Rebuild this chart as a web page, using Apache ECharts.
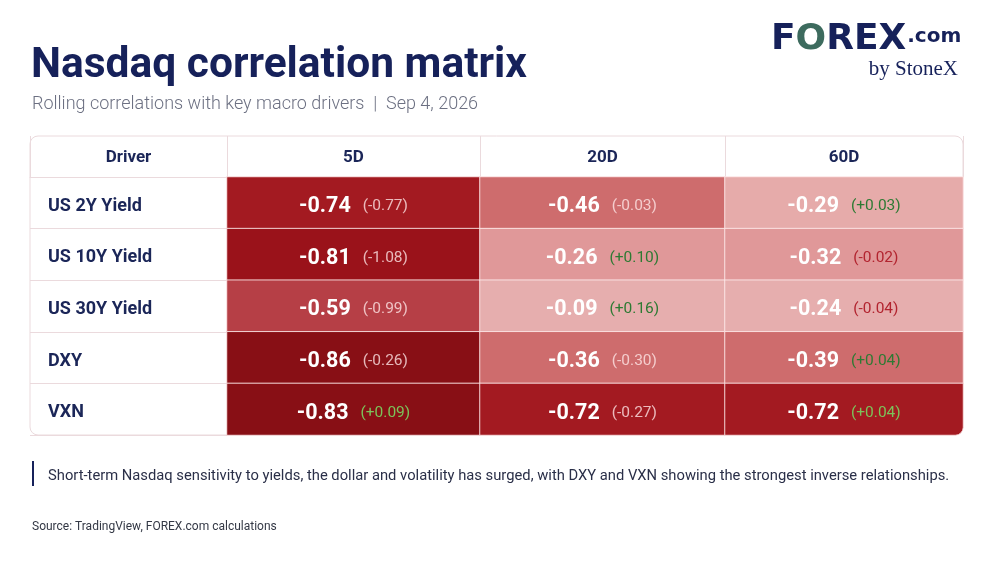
<!DOCTYPE html>
<html><head><meta charset="utf-8">
<script src="https://cdn.jsdelivr.net/npm/echarts@6/dist/echarts.min.js"></script>
<style>html,body{margin:0;padding:0;background:#fff}#c{width:1000px;height:563px}</style>
</head><body><div id="c"></div>
<script>
// ---- data ----
var drivers = ['US 2Y Yield', 'US 10Y Yield', 'US 30Y Yield', 'DXY', 'VXN'];
var periods = ['5D', '20D', '60D'];
var corr5D  = [-0.74, -0.81, -0.59, -0.86, -0.83];
var corr20D = [-0.46, -0.26, -0.09, -0.36, -0.72];
var corr60D = [-0.29, -0.32, -0.24, -0.39, -0.72];
var chg5D  = [-0.77, -1.08, -0.99, -0.26, 0.09];
var chg20D = [-0.03, 0.10, 0.16, -0.30, -0.27];
var chg60D = [0.03, -0.02, -0.04, 0.04, 0.04];

var corrCols = [corr5D, corr20D, corr60D];
var chgCols = [chg5D, chg20D, chg60D];

// ---- layout ----
var NAVY = '#16215a';
var BORDER = '#ebdadd';
var tableTop = 136, headerBottom = 177, tableBottom = 435;
var colEdges = [30, 227, 480, 725, 963];

var chart = echarts.init(document.getElementById('c'), null, {renderer: 'canvas'});

function fmtChg(c) { return '(' + (c > 0 ? '+' : '') + c.toFixed(2) + ')'; }

var grids = [], xAxes = [], yAxes = [], series = [];
for (var g = 0; g < 4; g++) {
  grids.push({left: colEdges[g], width: colEdges[g + 1] - colEdges[g], top: headerBottom, bottom: 563 - tableBottom});
  xAxes.push({
    type: 'category', gridIndex: g, position: 'top',
    data: g === 0 ? ['Driver'] : [periods[g - 1]],
    axisLine: {show: true, lineStyle: {color: BORDER, width: 1}},
    axisTick: {show: true, length: headerBottom - tableTop, lineStyle: {color: BORDER, width: 1}},
    axisLabel: {margin: 19, verticalAlign: 'middle', padding: [4, 0, 0, 0], color: '#1b2658', fontFamily: 'Roboto', fontWeight: 'bold', fontSize: 17},
    splitLine: {show: false}
  });
  yAxes.push({
    type: 'category', gridIndex: g, inverse: true, data: drivers,
    show: g === 0,
    axisLine: {show: false}, axisTick: {show: false},
    axisLabel: {
      inside: true, margin: 18,
      formatter: '{a|{value}}',
      rich: {a: {padding: [7, 0, 0, 0], color: '#1b2658', fontFamily: 'Roboto', fontWeight: 'bold', fontSize: 18}}
    },
    splitLine: {show: g === 0, lineStyle: {color: BORDER, width: 1}}
  });
}

var heatIdx = [];
for (var p = 0; p < 3; p++) {
  var d = [];
  for (var r = 0; r < drivers.length; r++) {
    var item = {value: [0, r, corrCols[p][r], chgCols[p][r]]};
    if (p === 2 && r === drivers.length - 1) item.itemStyle = {borderRadius: [0, 0, 8, 0]};
    d.push(item);
  }
  heatIdx.push(series.length);
  series.push({
    type: 'heatmap', xAxisIndex: p + 1, yAxisIndex: p + 1, data: d,
    itemStyle: {borderColor: 'rgba(255,235,235,0.85)', borderWidth: 1},
    emphasis: {disabled: true},
    label: {
      show: true,
      offset: [0, 4],
      formatter: function (pr) {
        var v = pr.value[2], c = pr.value[3], st;
        if (c > 0) st = v <= -0.6 ? 'pl' : 'pd';
        else st = v <= -0.34 ? 'nl' : 'nd';
        return '{v|' + v.toFixed(2) + '}{' + st + '|' + fmtChg(c) + '}';
      },
      rich: {
        v: {color: '#ffffff', fontFamily: 'Roboto', fontWeight: 'bold', fontSize: 21.5},
        pl: {color: '#7cc35a', fontFamily: 'Roboto', fontSize: 15.5, padding: [0, 0, 1, 12]},
        pd: {color: '#2d7a33', fontFamily: 'Roboto', fontSize: 15.5, padding: [0, 0, 1, 12]},
        nl: {color: 'rgba(255,232,232,0.78)', fontFamily: 'Roboto', fontSize: 15.5, padding: [0, 0, 1, 12]},
        nd: {color: '#b2242f', fontFamily: 'Roboto', fontSize: 15.5, padding: [0, 0, 1, 12]}
      }
    }
  });
}

var option = {
  backgroundColor: '#ffffff',
  animation: false,
  grid: grids, xAxis: xAxes, yAxis: yAxes,
  visualMap: {
    type: 'piecewise', show: false, dimension: 2, seriesIndex: heatIdx,
    pieces: [
      {lte: -0.82, color: '#880f15'},
      {gt: -0.82, lte: -0.78, color: '#9a121a'},
      {gt: -0.78, lte: -0.65, color: '#a31a21'},
      {gt: -0.65, lte: -0.50, color: '#b63f46'},
      {gt: -0.50, lte: -0.34, color: '#ce6c6d'},
      {gt: -0.34, lte: -0.30, color: '#e09899'},
      {gt: -0.30, lte: -0.27, color: '#e6abaa'},
      {gt: -0.27, lte: -0.25, color: '#e09899'},
      {gt: -0.25, color: '#e6aeae'}
    ]
  },
  series: series,
  graphic: [
    {type: 'rect', z: -10, shape: {x: colEdges[0], y: tableTop, width: colEdges[4] - colEdges[0], height: tableBottom - tableTop, r: 8},
     style: {fill: '#ffffff', stroke: BORDER, lineWidth: 1}},
    {type: 'text', x: 31, y: 66, style: {text: 'Nasdaq correlation matrix', fill: NAVY, font: 'bold 42.5px Roboto', textVerticalAlign: 'middle'}},
    {type: 'text', x: 32, y: 104, style: {text: 'Rolling correlations with key macro drivers  |  Sep 4, 2026', fill: '#6c7082', font: '300 18px Roboto', textVerticalAlign: 'middle'}},
    {type: 'rect', shape: {x: 32, y: 461, width: 2, height: 25}, style: {fill: NAVY}},
    {type: 'text', x: 48, y: 476, style: {text: 'Short-term Nasdaq sensitivity to yields, the dollar and volatility has surged, with DXY and VXN showing the strongest inverse relationships.', fill: '#2a2f48', font: '14.75px Roboto', textVerticalAlign: 'middle'}},
    {type: 'text', x: 32, y: 527, style: {text: 'Source: TradingView, FOREX.com calculations', fill: '#333845', font: '12px Roboto', textVerticalAlign: 'middle'}},
    {type: 'text', x: 771, y: 40, style: {
      text: '{f|F}{o|O}{f|REX}{c|.com}', textVerticalAlign: 'middle',
      rich: {
        f: {fill: NAVY, font: 'bold 36px "DejaVu Sans"'},
        o: {fill: '#3d6b5e', font: 'bold 36px "DejaVu Sans"'},
        c: {fill: NAVY, font: 'bold 20px "DejaVu Sans"', padding: [0, 0, 6, 1]}
      }}},
    {type: 'text', x: 958, y: 69, style: {text: 'by StoneX', fill: NAVY, font: '21px "Liberation Serif"', textAlign: 'right', textVerticalAlign: 'middle'}}
  ]
};
chart.setOption(option);
</script></body></html>
